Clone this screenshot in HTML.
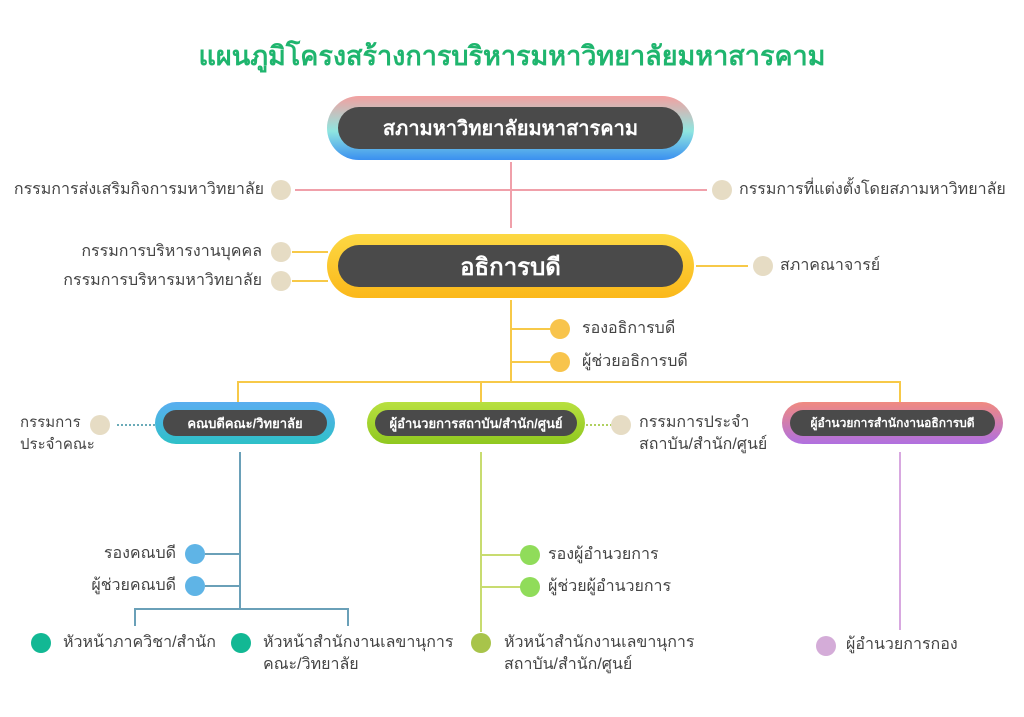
<!DOCTYPE html><html><head><meta charset="utf-8"><style>
body{margin:0;width:1024px;height:717px;background:#fff;position:relative;overflow:hidden;font-family:"Liberation Sans","DejaVu Sans",sans-serif;color:#444}
.a{position:absolute}
.t{position:absolute;font-size:16px;white-space:nowrap;line-height:22px}
.d{position:absolute;width:20px;height:20px;border-radius:50%}
.box{position:absolute;border-radius:40px;padding:8px}
.in{background:#4a4a4a;border-radius:30px;height:100%;color:#fff;font-weight:bold;display:flex;align-items:center;justify-content:center;box-sizing:border-box;white-space:nowrap}
.l{position:absolute}
</style></head><body>
<div class="a" style="left:0;width:1024px;top:34px;text-align:center;font-size:27px;font-weight:bold;color:#1fb56e">แผนภูมิโครงสร้างการบริหารมหาวิทยาลัยมหาสารคาม</div>

<div class="l" style="left:510px;top:162px;width:2px;height:66px;background:#f0a0aa"></div>
<div class="l" style="left:295px;top:189px;width:412px;height:2px;background:#f0a0aa"></div>
<div class="box" style="left:327px;top:96px;width:345px;height:42px;padding:11px;background:linear-gradient(#f3a0a0,#8fe6e0 55%,#3a8ff0)"><div class="in" style="font-size:20px">สภามหาวิทยาลัยมหาสารคาม</div></div>
<div class="d" style="left:271px;top:180px;background:#e6dcc4"></div>
<div class="t" style="right:760px;top:179px">กรรมการส่งเสริมกิจการมหาวิทยาลัย</div>
<div class="d" style="left:712px;top:180px;background:#e6dcc4"></div>
<div class="t" style="left:739px;top:179px">กรรมการที่แต่งตั้งโดยสภามหาวิทยาลัย</div>

<div class="l" style="left:292px;top:251px;width:36px;height:2px;background:#f7c948"></div>
<div class="l" style="left:292px;top:280px;width:36px;height:2px;background:#f7c948"></div>
<div class="l" style="left:696px;top:265px;width:52px;height:2px;background:#f7c948"></div>
<div class="box" style="left:327px;top:234px;width:345px;height:42px;padding:11px 11px;background:linear-gradient(#fcd843,#fbb81a)"><div class="in" style="font-size:24px">อธิการบดี</div></div>
<div class="d" style="left:271px;top:242px;background:#e6dcc4"></div>
<div class="t" style="right:762px;top:241px">กรรมการบริหารงานบุคคล</div>
<div class="d" style="left:271px;top:271px;background:#e6dcc4"></div>
<div class="t" style="right:762px;top:270px">กรรมการบริหารมหาวิทยาลัย</div>
<div class="d" style="left:753px;top:256px;background:#e6dcc4"></div>
<div class="t" style="left:780px;top:255px">สภาคณาจารย์</div>

<div class="l" style="left:510px;top:300px;width:2px;height:83px;background:#f7c948"></div>
<div class="l" style="left:511px;top:328px;width:40px;height:2px;background:#f7c948"></div>
<div class="l" style="left:511px;top:361px;width:40px;height:2px;background:#f7c948"></div>
<div class="d" style="left:550px;top:319px;background:#f8c44c"></div>
<div class="t" style="left:582px;top:318px">รองอธิการบดี</div>
<div class="d" style="left:550px;top:352px;background:#f8c44c"></div>
<div class="t" style="left:582px;top:351px">ผู้ช่วยอธิการบดี</div>
<div class="l" style="left:237px;top:381px;width:664px;height:2px;background:#f7c948"></div>
<div class="l" style="left:237px;top:381px;width:2px;height:22px;background:#f7c948"></div>
<div class="l" style="left:480px;top:381px;width:2px;height:22px;background:#f7c948"></div>
<div class="l" style="left:899px;top:381px;width:2px;height:22px;background:#f7c948"></div>

<div class="box" style="left:155px;top:402px;width:164px;height:26px;background:linear-gradient(#5aaef0,#2ec0c8)"><div class="in" style="font-size:13px">คณบดีคณะ/วิทยาลัย</div></div>
<div class="box" style="left:367px;top:402px;width:202px;height:26px;background:linear-gradient(#b8e040,#90c820)"><div class="in" style="font-size:13px">ผู้อำนวยการสถาบัน/สำนัก/ศูนย์</div></div>
<div class="box" style="left:782px;top:402px;width:205px;height:26px;background:linear-gradient(#f08a80,#b070e0)"><div class="in" style="font-size:12px">ผู้อำนวยการสำนักงานอธิการบดี</div></div>

<div class="l" style="left:117px;top:424px;width:38px;border-top:2px dotted #6aabb8"></div>
<div class="d" style="left:90px;top:415px;background:#e6dcc4"></div>
<div class="t" style="left:20px;top:412px;font-size:15px">กรรมการ<br>ประจำคณะ</div>
<div class="l" style="left:586px;top:424px;width:26px;border-top:2px dotted #b0d060"></div>
<div class="d" style="left:611px;top:415px;background:#e6dcc4"></div>
<div class="t" style="left:639px;top:412px">กรรมการประจำ<br>สถาบัน/สำนัก/ศูนย์</div>

<div class="l" style="left:239px;top:452px;width:2px;height:157px;background:#6aa0b8"></div>
<div class="l" style="left:205px;top:553px;width:35px;height:2px;background:#6aa0b8"></div>
<div class="l" style="left:205px;top:585px;width:35px;height:2px;background:#6aa0b8"></div>
<div class="d" style="left:185px;top:544px;background:#5fb4e6"></div>
<div class="t" style="right:848px;top:543px">รองคณบดี</div>
<div class="d" style="left:185px;top:576px;background:#5fb4e6"></div>
<div class="t" style="right:848px;top:575px">ผู้ช่วยคณบดี</div>
<div class="l" style="left:134px;top:608px;width:215px;height:2px;background:#6aa0b8"></div>
<div class="l" style="left:134px;top:608px;width:2px;height:18px;background:#6aa0b8"></div>
<div class="l" style="left:347px;top:608px;width:2px;height:18px;background:#6aa0b8"></div>
<div class="d" style="left:31px;top:633px;background:#12b894"></div>
<div class="t" style="left:63px;top:632px">หัวหน้าภาควิชา/สำนัก</div>
<div class="d" style="left:231px;top:633px;background:#12b894"></div>
<div class="t" style="left:263px;top:632px">หัวหน้าสำนักงานเลขานุการ<br>คณะ/วิทยาลัย</div>

<div class="l" style="left:480px;top:452px;width:2px;height:180px;background:#c8dc70"></div>
<div class="l" style="left:481px;top:554px;width:40px;height:2px;background:#c8dc70"></div>
<div class="l" style="left:481px;top:586px;width:40px;height:2px;background:#c8dc70"></div>
<div class="d" style="left:520px;top:545px;background:#90dc5a"></div>
<div class="t" style="left:548px;top:544px">รองผู้อำนวยการ</div>
<div class="d" style="left:520px;top:577px;background:#90dc5a"></div>
<div class="t" style="left:548px;top:576px">ผู้ช่วยผู้อำนวยการ</div>
<div class="d" style="left:471px;top:633px;background:#a8c44a"></div>
<div class="t" style="left:504px;top:632px">หัวหน้าสำนักงานเลขานุการ<br>สถาบัน/สำนัก/ศูนย์</div>

<div class="l" style="left:899px;top:452px;width:2px;height:178px;background:#d8a8e0"></div>
<div class="d" style="left:816px;top:636px;background:#d4acd8"></div>
<div class="t" style="left:846px;top:634px">ผู้อำนวยการกอง</div>
</body></html>
